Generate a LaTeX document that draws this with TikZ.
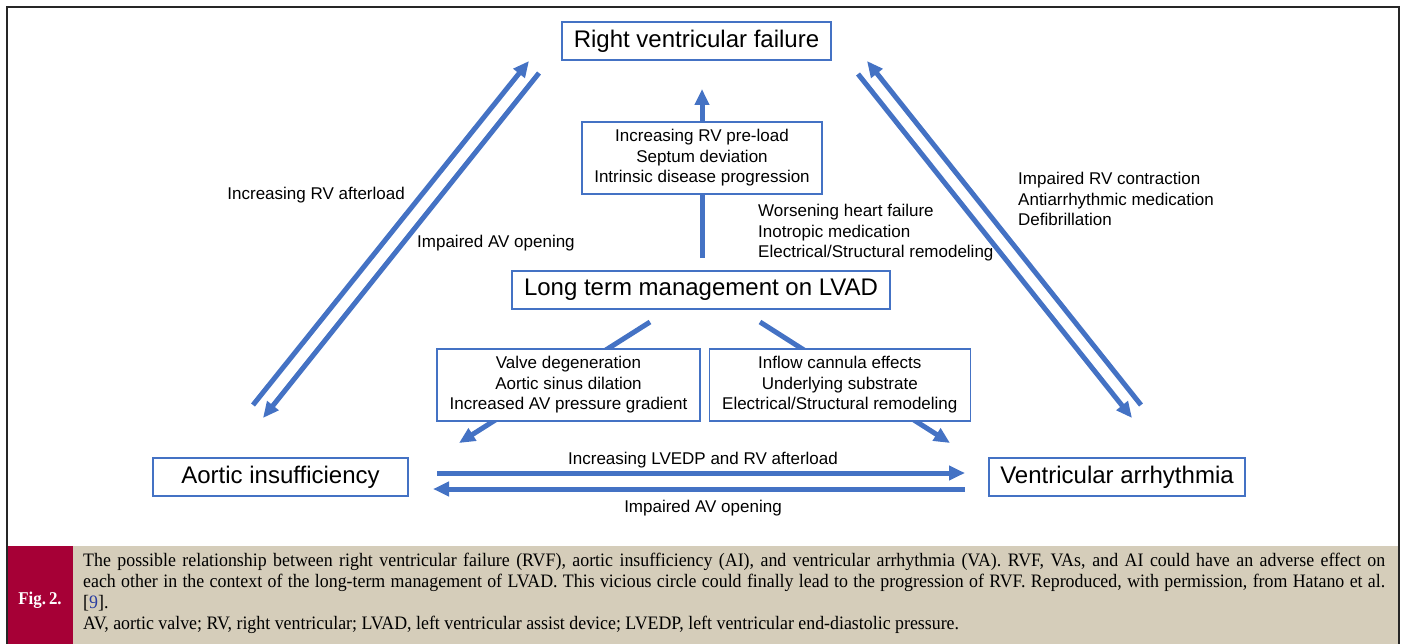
\documentclass[tikz,border=0pt]{standalone}
\usepackage{fontspec}
\setmainfont{Liberation Sans}
\newfontfamily\capfont[FakeStretch=0.94]{Liberation Serif}
\usetikzlibrary{arrows.meta, positioning}

\definecolor{flowblue}{RGB}{68,114,196}
\definecolor{capred}{RGB}{166,0,54}
\definecolor{capbeige}{RGB}{213,205,186}
\definecolor{refblue}{RGB}{40,60,160}

\tikzset{
  mainbox/.style={draw=flowblue, line width=1.5pt, fill=white, inner sep=0pt,
    minimum height=38pt, font=\fontsize{24}{29}\selectfont},
  notebox/.style={draw=flowblue, line width=1.3pt, fill=white, inner sep=0pt,
    minimum height=72pt, align=center, font=\fontsize{17}{20.5}\selectfont},
  note/.style={inner sep=0pt, align=left, font=\fontsize{17}{20.5}\selectfont},
  flow/.style={draw=flowblue, line width=5pt, -{Triangle[length=16pt,width=14pt]}},
}

\begin{document}
\begin{tikzpicture}[x=1pt, y=-1pt]
\useasboundingbox (0,0) rectangle (1404,644);

% caption band and frame
\fill[capred] (7,546) rectangle (73,644);
\fill[capbeige] (73,546) rectangle (1399,644);
\draw[line width=2pt, black!85] (7,644) -- (7,7) -- (1399,7) -- (1399,644);

% main states
\node [mainbox, minimum width=269pt] (rvf) at (696.5,41) {Right ventricular failure};
\node [mainbox, minimum width=378pt] (ltm) at (701,290) {Long term management on LVAD};
\node [mainbox, minimum width=255pt] (ai)  at (280.5,477) {Aortic insufficiency};
\node [mainbox, minimum width=256pt] (va)  at (1117,477) {Ventricular arrhythmia};

% free ends of the long arrows
\coordinate (ai-up)   at (253,405);
\coordinate (rvf-in1) at (529,61);
\coordinate (rvf-out1) at (539,73);
\coordinate (ai-in)   at (263,418);
\coordinate (va-up)   at (1141,405);
\coordinate (rvf-in2) at (867,61);
\coordinate (rvf-out2) at (858,74);
\coordinate (va-in)   at (1132,418);
\coordinate (ltm-up)  at (702,258);
\coordinate (rvf-in0) at (702,89);
\coordinate (ltm-l)   at (650,322);
\coordinate (ai-tip)  at (459,443);
\coordinate (ltm-r)   at (760,322);
\coordinate (va-tip)  at (950,443);
\coordinate (ai-r1)   at (437,473);
\coordinate (va-l1)   at (965,473);
\coordinate (va-l2)   at (965,489);
\coordinate (ai-r2)   at (433,489);

\draw [flow] (ai-up) -- (rvf-in1);
\draw [flow] (rvf-out1) -- (ai-in);
\draw [flow] (va-up) -- (rvf-in2);
\draw [flow] (rvf-out2) -- (va-in);
\draw [flow] (ltm-up) -- (rvf-in0);
\draw [flow] (ltm-l) -- (ai-tip);
\draw [flow] (ltm-r) -- (va-tip);
\draw [flow] (ai-r1) -- (va-l1);
\draw [flow] (va-l2) -- (ai-r2);

% boxes lying on the arrows
\node [notebox, minimum width=240pt] (preload) at (702,158)
  {Increasing RV pre-load\\Septum deviation\\Intrinsic disease progression};
\node [notebox, minimum width=263pt] (valve) at (568.5,385)
  {Valve degeneration\\Aortic sinus dilation\\Increased AV pressure gradient};
\node [notebox, minimum width=261pt, right=8pt of valve] (inflow)
  {Inflow cannula effects\\Underlying substrate\\Electrical/Structural remodeling};

% labels
\node [note, anchor=east] (afterload) at (405,195) {Increasing RV afterload};
\node [note, anchor=west] (avopen) at (417,243) {Impaired AV opening};
\node [note, anchor=west] (worsen) at (758,233)
  {Worsening heart failure\\Inotropic medication\\Electrical/Structural remodeling};
\node [note, anchor=west] (contract) at (1018,199)
  {Impaired RV contraction\\Antiarrhythmic medication\\Defibrillation};
\node [note] (lvedp) at (703,460) {Increasing LVEDP and RV afterload};
\node [note] (avopen2) at (703,508) {Impaired AV opening};

% caption
\node [text=white, font=\capfont\bfseries\fontsize{18}{21}\selectfont] (fig) at (40,600) {Fig.\,2.};
\node [anchor=north west, inner sep=0pt, text width=1302pt, align=justify,
  font=\capfont\fontsize{19}{21}\selectfont] (cap) at (83,553)
  {The possible relationship between right ventricular failure (RVF), aortic insufficiency (AI), and ventricular arrhythmia (VA). RVF, VAs, and AI could have an adverse effect on\linebreak{}
   each other in the context of the long-term management of LVAD. This vicious circle could finally lead to the progression of RVF. Reproduced, with permission, from Hatano et al.\linebreak{}
   {[}\textcolor{refblue}{9}].\\
   AV, aortic valve; RV, right ventricular; LVAD, left ventricular assist device; LVEDP, left ventricular end-diastolic pressure.};
\end{tikzpicture}
\end{document}
